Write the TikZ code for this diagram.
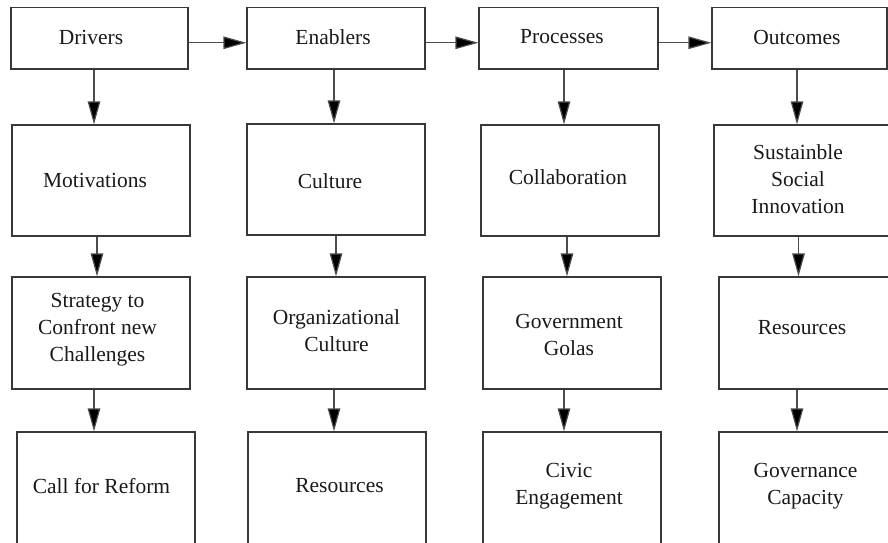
\documentclass[tikz,border=0pt]{standalone}
\usepackage{fontspec}
\setmainfont{Liberation Serif}
\usetikzlibrary{arrows.meta}
\newcommand\mkbox[5]{\node[box, minimum width={#4pt-#2pt}, minimum height={#5pt-#3pt}] (#1) at ({(#2+#4)/2},{(#3+#5)/2}) {};}
\begin{document}
\begin{tikzpicture}[x=1pt,y=-1pt,
  box/.style={draw=black!78, line width=1.2pt, rectangle, inner sep=0pt, fill=none},
  txt/.style={font=\fontsize{21.5}{27}\selectfont, align=center, inner sep=0pt, text=black!90},
  arr/.style={draw=black!70, line width=1.2pt, -{Triangle[length=23pt,width=12.5pt,fill=black]}}]
\useasboundingbox (0,0) rectangle (888,542);
\clip (0,0) rectangle (888,542);
% row 1
\mkbox{d1}{11}{7.5}{188}{69}
\mkbox{e1}{247}{7.5}{425}{69}
\mkbox{p1}{479}{7.5}{658}{69}
\mkbox{o1}{712}{7.5}{887}{69}
% row 2
\mkbox{d2}{12}{125}{190}{236}
\mkbox{e2}{247}{124}{425}{235}
\mkbox{p2}{481}{125}{659}{236}
\mkbox{o2}{714}{125}{898}{236}
% row 3
\mkbox{d3}{12}{277}{190}{389}
\mkbox{e3}{247}{277}{425}{389}
\mkbox{p3}{483}{277}{661}{389}
\mkbox{o3}{719}{277}{898}{389}
% row 4
\mkbox{d4}{17}{432}{195}{552}
\mkbox{e4}{248}{432}{426}{552}
\mkbox{p4}{483}{432}{661}{552}
\mkbox{o4}{719}{432}{898}{552}
% texts
\node[txt] (td1) at (91,37) {Drivers};
\node[txt] (te1) at (333,37) {Enablers};
\node[txt] (tp1) at (562,37) {Processes};
\node[txt] (to1) at (797,37) {Outcomes};
\node[txt] (td2) at (95,180) {Motivations};
\node[txt] (te2) at (330,181) {Culture};
\node[txt] (tp2) at (568,177) {Collaboration};
\node[txt] (to2) at (798,179) {Sustainble\\Social\\Innovation};
\node[txt] (td3) at (97.5,330) {Strategy to\\Confront new\\Challenges};
\node[txt] (te3) at (336.5,331) {Organizational\\Culture};
\node[txt] (tp3) at (569,335) {Government\\Golas};
\node[txt] (to3) at (802,328) {Resources};
\node[txt] (td4) at (101.5,486) {Call for Reform};
\node[txt] (te4) at (339.5,486) {Resources};
\node[txt] (tp4) at (569,486) {Civic\\Engagement};
\node[txt] (to4) at (805.5,486) {Governance\\Capacity};
% horizontal arrows
\draw[arr] ([yshift=-4.5pt]d1.east) -- ([yshift=-4.5pt]d1.east -| e1.west);
\draw[arr] ([yshift=-4.5pt]e1.east) -- ([yshift=-4.5pt]e1.east -| p1.west);
\draw[arr] ([yshift=-4.5pt]p1.east) -- ([yshift=-4.5pt]p1.east -| o1.west);
% vertical arrows
\draw[arr] ([xshift=-5.5pt]d1.south) -- ([xshift=-5.5pt]d1.south |- d2.north);
\draw[arr] ([xshift=-4pt]d2.south) -- ([xshift=-4pt]d2.south |- d3.north);
\draw[arr] ([xshift=-7pt]d3.south) -- ([xshift=-7pt]d3.south |- d4.north);
\draw[arr] ([xshift=-2pt]e1.south) -- ([xshift=-2pt]e1.south |- e2.north);
\draw[arr] ([xshift=0pt]e2.south) -- ([xshift=0pt]e2.south |- e3.north);
\draw[arr] ([xshift=-2pt]e3.south) -- ([xshift=-2pt]e3.south |- e4.north);
\draw[arr] ([xshift=-4.5pt]p1.south) -- ([xshift=-4.5pt]p1.south |- p2.north);
\draw[arr] ([xshift=-3pt]p2.south) -- ([xshift=-3pt]p2.south |- p3.north);
\draw[arr] ([xshift=-8pt]p3.south) -- ([xshift=-8pt]p3.south |- p4.north);
\draw[arr] ([xshift=-2.5pt]o1.south) -- ([xshift=-2.5pt]o1.south |- o2.north);
\draw[arr] ([xshift=-7.5pt]o2.south) -- ([xshift=-7.5pt]o2.south |- o3.north);
\draw[arr] ([xshift=-11.5pt]o3.south) -- ([xshift=-11.5pt]o3.south |- o4.north);
\end{tikzpicture}
\end{document}
